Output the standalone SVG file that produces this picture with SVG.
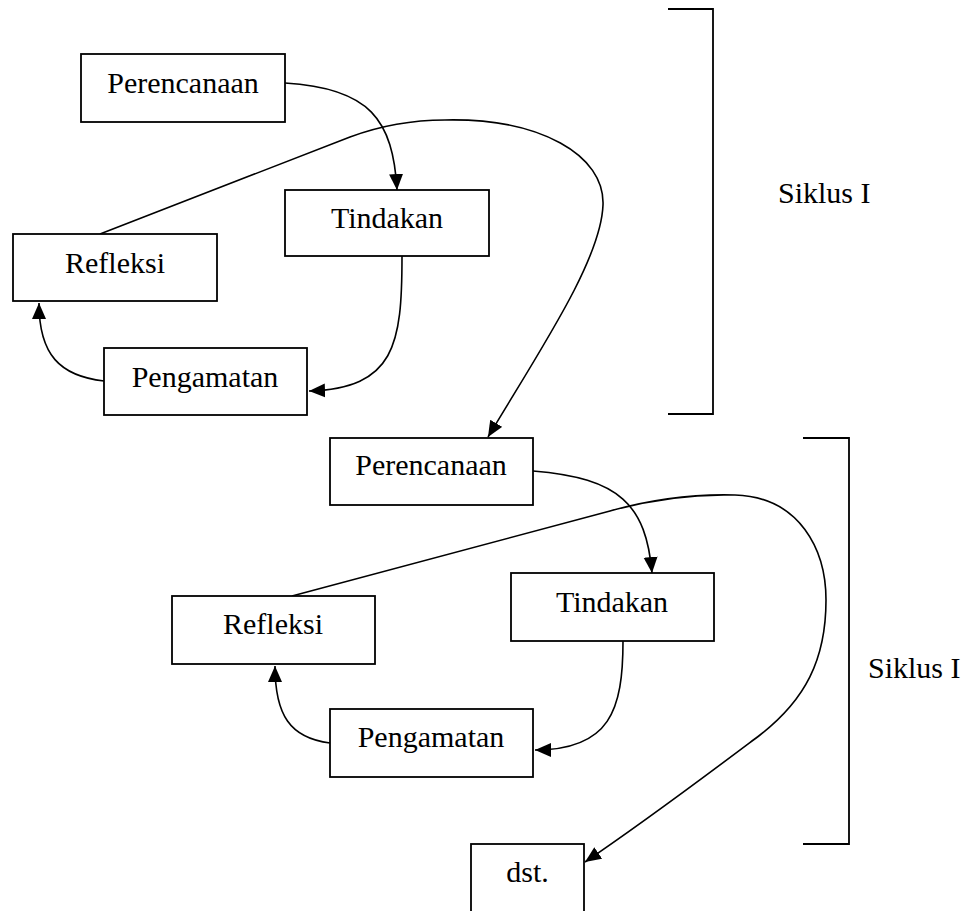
<svg xmlns="http://www.w3.org/2000/svg" width="966" height="911" viewBox="0 0 966 911">
<style>
.box{fill:#fff;stroke:#000;stroke-width:1.8}
.lbl{font-family:"Liberation Serif","Times New Roman",serif;font-size:30px;fill:#000;text-anchor:middle}
.side{font-family:"Liberation Serif","Times New Roman",serif;font-size:30px;fill:#000}
.con{fill:none;stroke:#000;stroke-width:1.6}
.brk{fill:none;stroke:#000;stroke-width:1.8}
</style>
<defs>
<marker id="arr" markerUnits="userSpaceOnUse" markerWidth="18" markerHeight="16" refX="16" refY="7.5" orient="auto">
<path d="M0,0.5 L16,7.5 L0,14.5 z" fill="#000"/>
</marker>
</defs>
<rect width="966" height="911" fill="#fff"/>
<g id="connectors">
<path class="con" d="M285,83 C370,88 393,120 397,190" marker-end="url(#arr)"/>
<path class="con" d="M402,256 C402,345 395,388 309,391" marker-end="url(#arr)"/>
<path class="con" d="M104,381 C60,376 39,355 39,303" marker-end="url(#arr)"/>
<path class="con" d="M100,234 L350,137 C385,124 415,120 445,120 C540,118 605,155 603,205 C601,260 540,350 488,437" marker-end="url(#arr)"/>
<path class="con" d="M533,471 C620,478 646,505 652,573" marker-end="url(#arr)"/>
<path class="con" d="M623,641 C623,710 610,750 535,750" marker-end="url(#arr)"/>
<path class="con" d="M330,743 C290,738 275,715 275,666" marker-end="url(#arr)"/>
<path class="con" d="M292,596 L610,511 C660,497 700,494 735,495 C800,497 826,550 826,600 C826,660 805,700 760,735 C720,765 650,818 585,862" marker-end="url(#arr)"/>
</g>
<g id="perencanaan1"><rect class="box" x="81" y="54" width="204" height="68"/><text class="lbl" x="183" y="93">Perencanaan</text></g>
<g id="tindakan1"><rect class="box" x="285" y="190" width="204" height="66"/><text class="lbl" x="387" y="228">Tindakan</text></g>
<g id="refleksi1"><rect class="box" x="13" y="234" width="204" height="67"/><text class="lbl" x="115" y="273">Refleksi</text></g>
<g id="pengamatan1"><rect class="box" x="104" y="348" width="203" height="67"/><text class="lbl" x="205" y="387">Pengamatan</text></g>
<g id="perencanaan2"><rect class="box" x="330" y="438" width="203" height="67"/><text class="lbl" x="431" y="475">Perencanaan</text></g>
<g id="tindakan2"><rect class="box" x="511" y="573" width="203" height="68"/><text class="lbl" x="612" y="612">Tindakan</text></g>
<g id="refleksi2"><rect class="box" x="172" y="596" width="203" height="68"/><text class="lbl" x="273" y="634">Refleksi</text></g>
<g id="pengamatan2"><rect class="box" x="330" y="709" width="203" height="68"/><text class="lbl" x="431" y="747">Pengamatan</text></g>
<g id="dst"><rect class="box" x="471" y="844" width="113" height="80"/><text class="lbl" x="527.5" y="882">dst.</text></g>
<g id="siklus1"><path class="brk" d="M668,9 H713 V414 H668"/><text class="side" x="778" y="203">Siklus I</text></g>
<g id="siklus2"><path class="brk" d="M803,438 H849 V844 H803"/><text class="side" x="868" y="678">Siklus I</text></g>
</svg>
